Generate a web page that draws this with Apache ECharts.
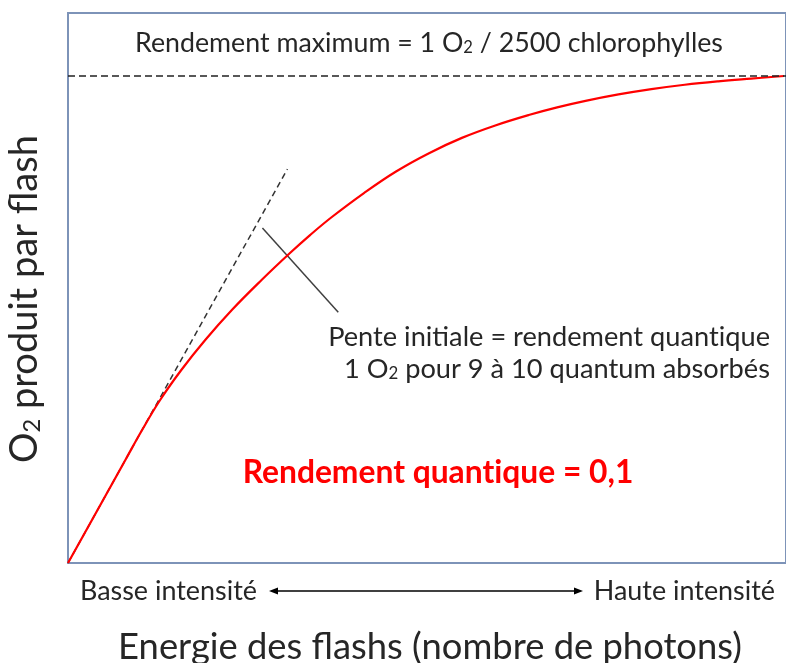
<!DOCTYPE html>
<html>
<head>
<meta charset="utf-8">
<script src="https://cdn.jsdelivr.net/npm/echarts@6/dist/echarts.min.js"></script>
<style>
html,body{margin:0;padding:0;background:#fff;}
#c{width:786px;height:663px;}
</style>
</head>
<body>
<div id="c"></div>
<script>
// ---- data (x: flash energy, 0-100 relative; y: O2 per flash, 100 = maximum yield) ----
const curveX = [0, 4.89, 7.99, 10.32, 12.83, 15.78, 19.11, 22.82, 26.96, 30.88, 33.75, 36.75, 41.22, 45.69, 50.28, 54.86, 59.51, 64.17, 68.13, 72.08, 76.67, 81.25, 85.90, 90.56, 95.14, 99.72];
const curveY = [0, 12.94, 21.15, 27.31, 33.47, 39.63, 45.79, 51.95, 58.11, 63.60, 67.39, 71.05, 75.97, 80.40, 84.16, 87.30, 89.85, 91.99, 93.56, 94.90, 96.22, 97.31, 98.21, 98.91, 99.47, 100];
const tangentX = [0, 30.56];
const tangentY = [0, 80.9];
const pointerX = [27.08, 37.64];
const pointerY = [68.8, 51.5];
const maxYield = 100;
const yTop = 112.94;

const FONT = 'Lato';
const TXT = '#262626';
const ZW = '\u200C'; // prevents the "ti" ligature of Lato
const ctx = document.createElement('canvas').getContext('2d');
function fitSize(parts, weight, target) {
  let w = 0;
  for (const [t, sc] of parts) {
    ctx.font = weight + ' ' + (100 * sc) + 'px ' + FONT;
    w += ctx.measureText(t).width;
  }
  return target / (w / 100);
}
const SUB = 0.62;

const titleParts = [['Rendement maximum = 1 O', 1], ['2', SUB], [' / 2500 chlorophylles', 1]];
const penteParts = [['Pente initiale = rendement quant' + ZW + 'ique', 1]];
const boldParts = [['Rendement quant' + ZW + 'ique = 0,1', 1]];
const basseParts = [['Basse intensité', 1]];
const xtitleParts = [['Energie des flashs (nombre de photons)', 1]];
const ytitleParts = [['O', 1], ['2', SUB], [' produit par flash', 1]];

const sTitle = fitSize(titleParts, 'normal', 588);
const sPente = fitSize(penteParts, 'normal', 442);
const sBold = fitSize(boldParts, 'bold', 391);
const sBasse = fitSize(basseParts, 'normal', 177);
const sXt = fitSize(xtitleParts, 'normal', 624);
const sYt = fitSize(ytitleParts, 'normal', 328);

function rich(size, color, weight) {
  return {
    a: {fontSize: size, fontFamily: FONT, fill: color, fontWeight: weight || 'normal'},
    s: {fontSize: size * SUB, fontFamily: FONT, fill: color, verticalAlign: 'bottom', fontWeight: weight || 'normal'}
  };
}
function txt(x, y, text, size, align, opts) {
  opts = opts || {};
  return Object.assign({
    type: 'text', x: x, y: y, silent: true,
    style: {
      text: text, rich: rich(size, opts.color || TXT, opts.weight),
      align: align, textAlign: align, verticalAlign: 'middle', textVerticalAlign: 'middle',
      fontSize: size, fontFamily: FONT, fill: opts.color || TXT
    }
  }, opts.extra || {});
}

const chart = echarts.init(document.getElementById('c'), null, {renderer: 'canvas'});
chart.setOption({
  animation: false,
  backgroundColor: '#ffffff',
  grid: {left: 68, top: 13, bottom: 100, right: -2, show: true, borderColor: '#7d93b8', borderWidth: 2, backgroundColor: 'transparent'},
  xAxis: {type: 'value', min: 0, max: 100, axisLine: {show: false}, axisTick: {show: false}, axisLabel: {show: false}, splitLine: {show: false}},
  yAxis: {type: 'value', min: 0, max: yTop, axisLine: {show: false}, axisTick: {show: false}, axisLabel: {show: false}, splitLine: {show: false}},
  series: [
    {
      name: 'tangent', type: 'line', symbol: 'none', silent: true,
      data: tangentX.map((x, i) => [x, tangentY[i]]),
      lineStyle: {color: '#333333', width: 1.5, type: [6, 4]}, z: 2
    },
    {
      name: 'pointer', type: 'line', symbol: 'none', silent: true,
      data: pointerX.map((x, i) => [x, pointerY[i]]),
      lineStyle: {color: '#404040', width: 1.5}, z: 2
    },
    {
      name: 'curve', type: 'line', symbol: 'none', silent: true, smooth: 0.4,
      data: curveX.map((x, i) => [x, curveY[i]]),
      lineStyle: {color: '#ff0000', width: 2.2}, z: 3,
      markLine: {
        silent: true, symbol: 'none', label: {show: false},
        lineStyle: {color: '#222222', width: 1.5, type: [7, 4]},
        data: [{yAxis: maxYield}]
      }
    }
  ],
  graphic: [
    txt(429, 43, '{a|Rendement maximum = 1 O}{s|2}{a| / 2500 chlorophylles}', sTitle, 'center'),
    txt(770, 337, '{a|Pente initiale = rendement quant' + ZW + 'ique}', sPente, 'right'),
    txt(770, 369, '{a|1 O}{s|2}{a| pour 9 à 10 quantum absorbés}', sPente, 'right'),
    txt(438, 473, '{a|Rendement quant' + ZW + 'ique = 0,1}', sBold, 'center', {color: '#ff0000', weight: 'bold'}),
    txt(80, 591, '{a|Basse intensité}', sBasse, 'left'),
    txt(775, 591, '{a|Haute intensité}', sBasse, 'right'),
    txt(430, 647, '{a|Energie des flashs (nombre de photons)}', sXt, 'center'),
    txt(25, 299, '{a|O}{s|2}{a| produit par flash}', sYt, 'center', {extra: {rotation: Math.PI / 2}}),
    {type: 'line', silent: true, shape: {x1: 276, y1: 591, x2: 576, y2: 591}, style: {stroke: '#000', lineWidth: 1.5}},
    {type: 'polygon', silent: true, shape: {points: [[269, 591], [278, 587.5], [278, 594.5]]}, style: {fill: '#000'}},
    {type: 'polygon', silent: true, shape: {points: [[583, 591], [574, 587.5], [574, 594.5]]}, style: {fill: '#000'}}
  ]
});
</script>
</body>
</html>
